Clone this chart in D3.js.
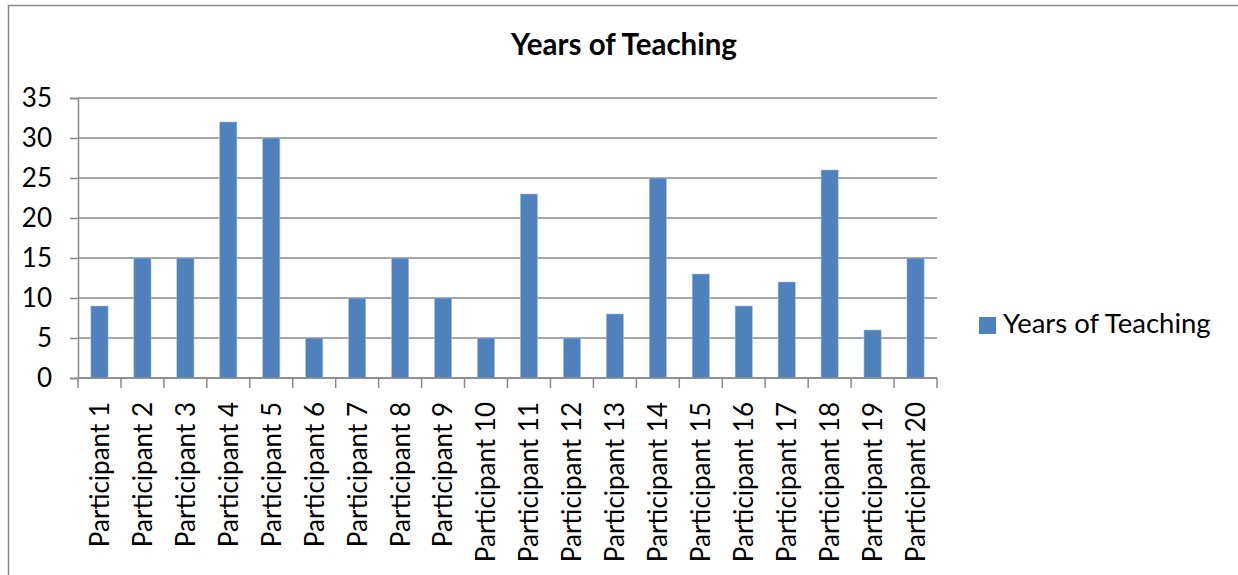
<!DOCTYPE html>
<html>
<head>
<meta charset="utf-8">
<script src="https://cdn.jsdelivr.net/npm/d3@7"></script>
<style>
  html, body { margin: 0; padding: 0; background: #fff; }
  svg { display: block; }
</style>
</head>
<body>
<svg id="chart"></svg>
<script>
// chart data
var categories = ["Participant 1", "Participant 2", "Participant 3", "Participant 4", "Participant 5",
                  "Participant 6", "Participant 7", "Participant 8", "Participant 9", "Participant 10",
                  "Participant 11", "Participant 12", "Participant 13", "Participant 14", "Participant 15",
                  "Participant 16", "Participant 17", "Participant 18", "Participant 19", "Participant 20"];
var years = [9, 15, 15, 32, 30, 5, 10, 15, 10, 5, 23, 5, 8, 25, 13, 9, 12, 26, 6, 15];
var yTicks = [0, 5, 10, 15, 20, 25, 30, 35];
var seriesName = "Years of Teaching";
var title = "Years of Teaching";

var width = 1238, height = 575;
var font = "Lato, 'Open Sans', sans-serif";
var barColor = "#4f81bd";
var gridColor = "#898989";

// plot area
var plotLeft = 78, plotRight = 937, plotTop = 98, plotBottom = 378;

var svg = d3.select("#chart")
    .attr("width", width)
    .attr("height", height);

// outer chart border (runs off the right and bottom of the picture)
svg.append("rect")
    .attr("x", 8.5)
    .attr("y", 5.5)
    .attr("width", width + 20)
    .attr("height", height + 20)
    .attr("fill", "none")
    .attr("stroke", gridColor)
    .attr("stroke-width", 1.5);

var x = d3.scaleBand()
    .domain(categories)
    .range([plotLeft, plotRight])
    .paddingInner(0.6)
    .paddingOuter(0.3);

var y = d3.scaleLinear()
    .domain([0, 35])
    .range([plotBottom, plotTop]);

// horizontal gridlines
svg.append("g")
    .selectAll("line")
    .data(yTicks)
    .enter()
    .append("line")
    .attr("x1", plotLeft)
    .attr("x2", plotRight)
    .attr("y1", function(d) { return y(d); })
    .attr("y2", function(d) { return y(d); })
    .attr("stroke", gridColor)
    .attr("stroke-width", 1.5);

// y axis
var yAxis = svg.append("g")
    .attr("transform", "translate(" + plotLeft + ",0)")
    .call(d3.axisLeft(y)
        .tickValues(yTicks)
        .tickSize(8)
        .tickPadding(18)
        .tickFormat(d3.format("d")));
yAxis.select(".domain")
    .attr("stroke", gridColor)
    .attr("stroke-width", 1.5);
yAxis.selectAll(".tick line")
    .attr("stroke", gridColor)
    .attr("stroke-width", 1.5);
yAxis.selectAll(".tick text")
    .attr("fill", "#000")
    .attr("font-family", font)
    .attr("font-size", "26px");

// bars
svg.append("g")
    .selectAll("rect")
    .data(years)
    .enter()
    .append("rect")
    .attr("x", function(d, i) { return x(categories[i]); })
    .attr("y", function(d) { return y(d); })
    .attr("width", x.bandwidth())
    .attr("height", function(d) { return y(0) - y(d); })
    .attr("fill", barColor)
    .attr("stroke", "#a7bfde")
    .attr("stroke-width", 0.6);

// x axis line and category boundary ticks
var step = x.step();
var boundaries = d3.range(categories.length + 1);
svg.append("line")
    .attr("x1", plotLeft)
    .attr("x2", plotRight)
    .attr("y1", plotBottom)
    .attr("y2", plotBottom)
    .attr("stroke", gridColor)
    .attr("stroke-width", 1.5);
svg.append("g")
    .selectAll("line")
    .data(boundaries)
    .enter()
    .append("line")
    .attr("x1", function(d) { return plotLeft + d * step; })
    .attr("x2", function(d) { return plotLeft + d * step; })
    .attr("y1", plotBottom)
    .attr("y2", plotBottom + 10)
    .attr("stroke", gridColor)
    .attr("stroke-width", 1.5);

// category labels, rotated
svg.append("g")
    .selectAll("text")
    .data(categories)
    .enter()
    .append("text")
    .attr("transform", function(d) {
        return "translate(" + (x(d) + x.bandwidth() / 2) + "," + (plotBottom + 24) + ") rotate(-90)";
    })
    .attr("dy", "0.36em")
    .attr("text-anchor", "end")
    .attr("font-family", font)
    .attr("font-size", "26px")
    .attr("fill", "#000")
    .text(function(d) { return d; });

// title
svg.append("text")
    .attr("x", 624)
    .attr("y", 55)
    .attr("text-anchor", "middle")
    .attr("font-family", font)
    .attr("font-weight", "bold")
    .attr("font-size", "29.5px")
    .attr("fill", "#000")
    .text(title);

// legend
var legend = svg.append("g")
    .attr("transform", "translate(979,317)");
legend.append("rect")
    .attr("width", 17)
    .attr("height", 17)
    .attr("fill", barColor);
legend.append("text")
    .attr("x", 24)
    .attr("y", 16)
    .attr("font-family", font)
    .attr("font-size", "27.5px")
    .attr("fill", "#000")
    .text(seriesName);
</script>
</body>
</html>
